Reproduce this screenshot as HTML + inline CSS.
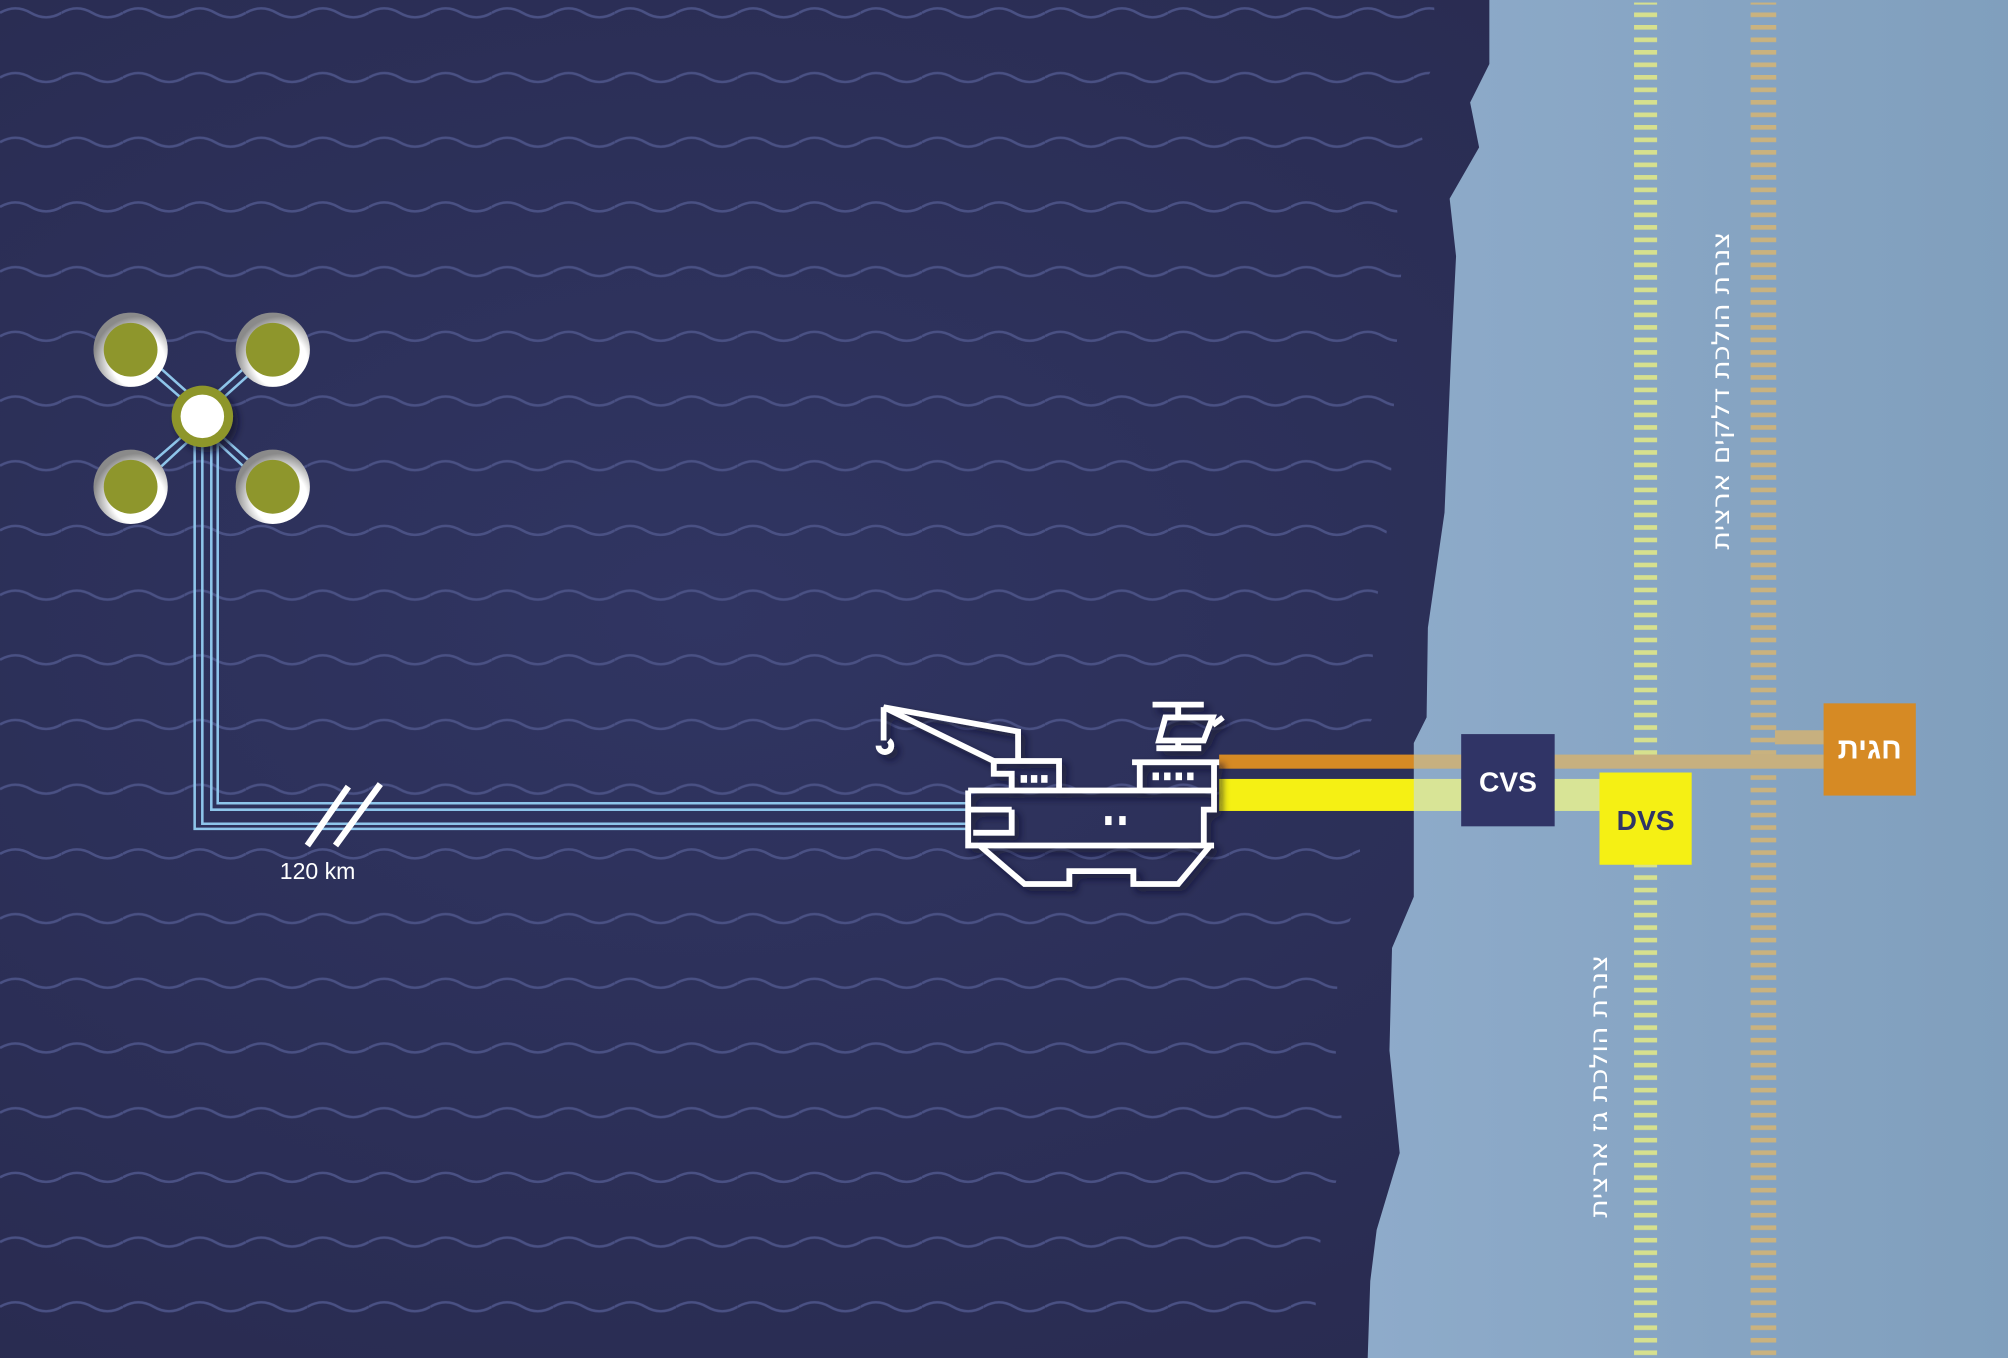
<!DOCTYPE html>
<html><head><meta charset="utf-8"><style>
html,body{margin:0;padding:0;background:#2b2d52;}
svg{display:block;}
</style></head><body>
<svg width="2008" height="1358" viewBox="0 0 1568 1060" preserveAspectRatio="none" xmlns="http://www.w3.org/2000/svg">
<defs>
<radialGradient id="sea" cx="0.35" cy="0.45" r="0.75">
<stop offset="0" stop-color="#303562"/><stop offset="1" stop-color="#282a4e"/>
</radialGradient>
<linearGradient id="land" x1="0" y1="0" x2="1" y2="0">
<stop offset="0" stop-color="#8eabca"/><stop offset="1" stop-color="#809fbd"/>
</linearGradient>
<pattern id="wave" width="48" height="50.5" patternUnits="userSpaceOnUse" y="0">
<path d="M0 10 q12 -7 24 0 t24 0" fill="none" stroke="#4a5184" stroke-width="2"/>
</pattern>
<pattern id="dashG" width="20" height="9.76" patternUnits="userSpaceOnUse">
<rect x="0" y="0" width="20" height="3.6" fill="#d6e08e"/>
</pattern>
<pattern id="dashT" width="22" height="9.76" patternUnits="userSpaceOnUse">
<rect x="0" y="0" width="22" height="3.6" fill="#c9b27f"/>
</pattern>
<radialGradient id="ring" cx="0.6" cy="0.65" r="0.6">
<stop offset="0.6" stop-color="#ffffff"/><stop offset="1" stop-color="#8a8a8a"/>
</radialGradient>
<filter id="sh" x="-30%" y="-30%" width="160%" height="160%"><feDropShadow dx="4" dy="4" stdDeviation="3" flood-color="#101228" flood-opacity="0.7"/></filter>
</defs>
<rect width="1568" height="1060" fill="url(#sea)"/>
<polygon points="0,0 1120,0 1120,50 1105,80 1112,115 1090,155 1095,200 1090,280 1085,400 1072,490 1072,560 1062,580 1062,700 1045,740 1043,820 1050,900 1032,960 1028,1000 1026,1060 0,1060" fill="url(#wave)"/>
<polygon points="1163,0 1163,50 1148,80 1155,115 1132,155 1137,200 1133,280 1128,400 1115,490 1114,560 1104,580 1104,700 1087,740 1085,820 1093,900 1075,960 1070,1000 1068,1060 1568,1060 1568,0" fill="url(#land)"/>
<rect x="1276" y="2" width="18" height="1058" fill="url(#dashG)"/>
<rect x="1367" y="2" width="20" height="1058" fill="url(#dashT)"/>

<!-- pipes -->
<g fill="none" stroke="#8ec5ea" stroke-width="2">
<path d="M152 340 V647 H756"/>
<path d="M158 340 V643 H756"/>
<path d="M165 340 V632 H756"/>
<path d="M170 340 V627 H756"/>
<path d="M120 292 L150 318 M126 288 L154 313"/>
<path d="M195 292 L166 318 M190 288 L162 313"/>
<path d="M120 360 L150 334 M126 364 L154 338"/>
<path d="M195 360 L166 334 M190 364 L162 338"/>
</g>
<g stroke="#ffffff" stroke-width="5"><line x1="240" y1="660" x2="272" y2="614"/><line x1="262" y1="660" x2="297" y2="612"/></g>
<text x="248" y="686" fill="#fff" font-family="Liberation Sans, sans-serif" font-size="18" text-anchor="middle">120 km</text>

<!-- wells -->
<g>
<circle cx="102" cy="273" r="29" fill="url(#ring)"/><circle cx="102" cy="273" r="21" fill="#8e962c"/>
<circle cx="213" cy="273" r="29" fill="url(#ring)"/><circle cx="213" cy="273" r="21" fill="#8e962c"/>
<circle cx="102" cy="380" r="29" fill="url(#ring)"/><circle cx="102" cy="380" r="21" fill="#8e962c"/>
<circle cx="213" cy="380" r="29" fill="url(#ring)"/><circle cx="213" cy="380" r="21" fill="#8e962c"/>
<circle cx="158" cy="325" r="24" fill="#8e962c" filter="url(#sh)"/><circle cx="158" cy="325" r="17" fill="#fff"/>
</g>

<!-- lines to shore -->
<rect x="952" y="589" width="153" height="11" fill="#d68a24"/>
<rect x="1104" y="589" width="320" height="11" fill="#c7b07f"/>
<rect x="1386" y="570" width="40" height="11" fill="#c7b07f"/>
<rect x="952" y="608" width="153" height="25" fill="#f5f014"/>
<rect x="1104" y="608" width="146" height="25" fill="#d8e496"/>

<!-- platform -->
<g fill="none" stroke="#fff" stroke-width="4.5" stroke-linejoin="miter" filter="url(#sh)">
<path d="M795 594 V571 L690 552 L776 594"/>
<path d="M690 552 V578"/>
<path d="M694 578 a5 5 0 1 1 -8 4"/>
<path d="M776 594 H827 V617 M776 594 V604 H790 V617"/>
<path d="M756 617 H948 V632 H940 V660 M756 617 V632 H790 M756 632 V660 H948"/>
<path d="M790 632 V650 H760"/>
<path d="M765 660 L800 690 H835 V680 H885 V690 H920 L945 660"/>
<path d="M884 595 H952 M890 595 V617 M948 597 V617"/>
<path d="M900 550 H940 M920 550 V558 M903 584 H938 M920 578 V584"/>
<path d="M910 560 H947 L940 578 H905 Z"/>
<path d="M947 566 L955 560"/>
</g>
<g fill="#fff">
<rect x="797" y="605" width="5" height="6"/><rect x="805" y="605" width="5" height="6"/><rect x="813" y="605" width="5" height="6"/>
<rect x="900" y="603" width="5" height="6"/><rect x="909" y="603" width="5" height="6"/><rect x="918" y="603" width="5" height="6"/><rect x="927" y="603" width="5" height="6"/>
<rect x="863" y="637" width="5" height="7"/><rect x="874" y="637" width="5" height="7"/>
</g>

<!-- boxes -->
<rect x="1141" y="573" width="73" height="72" fill="#303466"/>
<text x="1177.5" y="618" fill="#fff" font-family="Liberation Sans, sans-serif" font-weight="bold" font-size="22" text-anchor="middle">CVS</text>
<rect x="1249" y="603" width="72" height="72" fill="#f5f014"/>
<text x="1285" y="648" fill="#303466" font-family="Liberation Sans, sans-serif" font-weight="bold" font-size="22" text-anchor="middle">DVS</text>
<rect x="1424" y="549" width="72" height="72" fill="#d68a24"/>
<text x="1460" y="592" fill="#fff" font-family="Liberation Sans, 'Noto Sans CJK JP', DejaVu Sans, sans-serif" font-weight="bold" font-size="23" text-anchor="middle">חגית</text>

<!-- vertical labels -->
<text transform="translate(1350,305) rotate(-90)" fill="#fff" font-family="DejaVu Sans, 'Liberation Sans', sans-serif" font-size="19" text-anchor="middle" textLength="248" lengthAdjust="spacingAndGlyphs">צנרת הולכת דלקים ארצית</text>
<text transform="translate(1255,848) rotate(-90)" fill="#fff" font-family="DejaVu Sans, 'Liberation Sans', sans-serif" font-size="19" text-anchor="middle" textLength="205" lengthAdjust="spacingAndGlyphs">צנרת הולכת גז ארצית</text>
</svg>
</body></html>
